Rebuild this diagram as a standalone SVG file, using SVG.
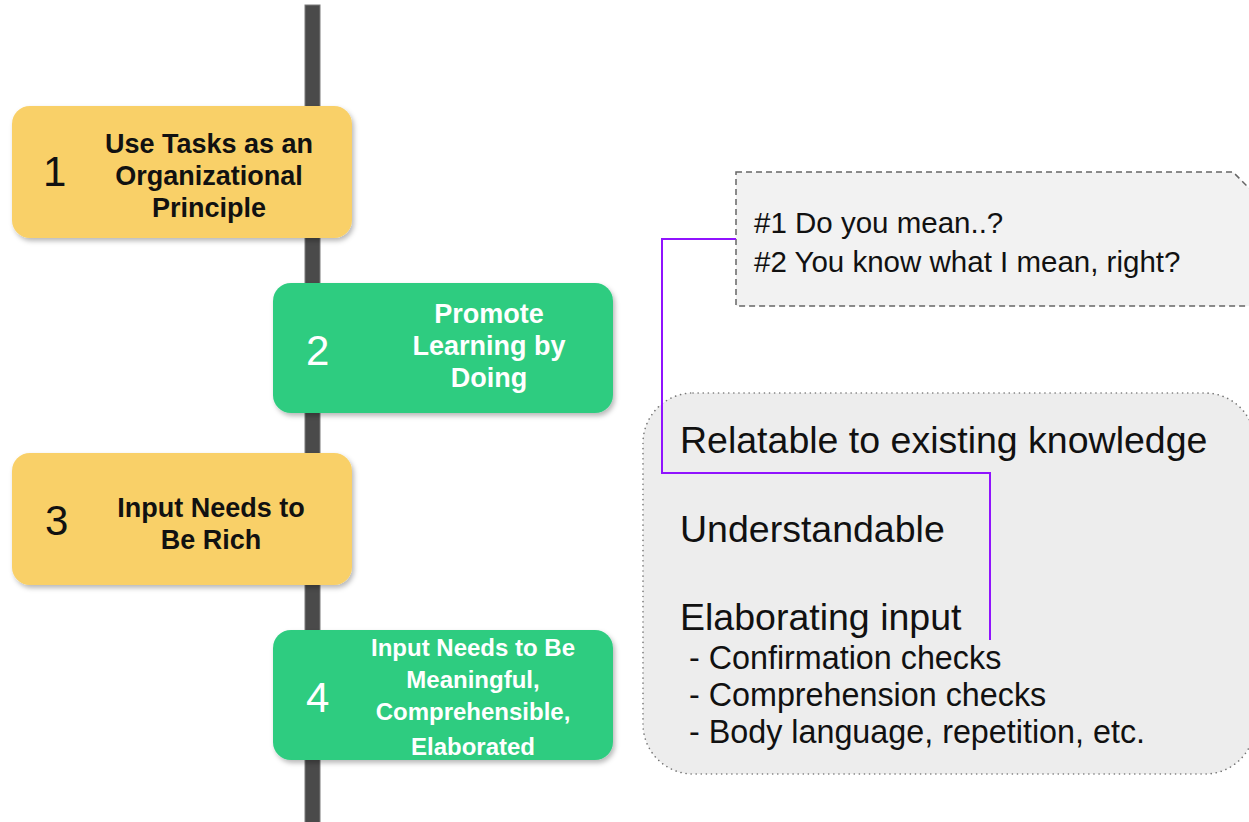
<svg xmlns="http://www.w3.org/2000/svg" width="1249" height="822" viewBox="0 0 1249 822">
<defs>
<filter id="sh" x="-10%" y="-10%" width="125%" height="130%">
<feDropShadow dx="2" dy="3" stdDeviation="2.5" flood-color="#000" flood-opacity="0.28"/>
</filter>
<style>
.box{filter:url(#sh);}
.yel{fill:#F9D067;}
.grn{fill:#2FCC80;}
.num{font-family:"Liberation Sans",Arial,sans-serif;font-size:42px;}
.ttl{font-family:"Liberation Sans",Arial,sans-serif;font-weight:bold;font-size:27px;text-anchor:middle;}
.dk{fill:#111;}
.lt{fill:#fff;}
.note{font-family:"Liberation Sans",Arial,sans-serif;font-size:29.5px;fill:#111;}
.big{font-family:"Liberation Sans",Arial,sans-serif;font-size:37.5px;fill:#111;}
.sm{font-family:"Liberation Sans",Arial,sans-serif;font-size:32.3px;fill:#111;}
</style>
</defs>
<rect width="1249" height="822" fill="#fff"/>
<rect id="timeline" x="305" y="5" width="15" height="830" fill="#4a4a4a" stroke="#7a7a7a" stroke-width="1"/>

<g id="node1">
<rect class="box yel" x="12" y="106" width="340" height="132" rx="18"/>
<text class="num dk" x="43" y="186">1</text>
<text class="ttl dk"><tspan x="209" y="153">Use Tasks as an</tspan><tspan x="209" y="185">Organizational</tspan><tspan x="209" y="217">Principle</tspan></text>
</g>

<g id="node2">
<rect class="box grn" x="273" y="283" width="340" height="130" rx="18"/>
<text class="num lt" x="306" y="365">2</text>
<text class="ttl lt"><tspan x="489" y="323">Promote</tspan><tspan x="489" y="355">Learning by</tspan><tspan x="489" y="387">Doing</tspan></text>
</g>

<g id="node3">
<rect class="box yel" x="12" y="453" width="340" height="132" rx="18"/>
<text class="num dk" x="45" y="535">3</text>
<text class="ttl dk"><tspan x="211" y="517">Input Needs to</tspan><tspan x="211" y="549">Be Rich</tspan></text>
</g>

<g id="node4">
<rect class="box grn" x="273" y="630" width="340" height="130" rx="18"/>
<text class="num lt" x="306" y="712">4</text>
<text class="ttl lt" style="font-size:24px"><tspan x="473" y="656">Input Needs to Be</tspan><tspan x="473" y="688">Meaningful,</tspan><tspan x="473" y="720">Comprehensible,</tspan><tspan x="473" y="755">Elaborated</tspan></text>
</g>

<g id="note">
<path d="M736,172 H1233 L1255,194 V306 H736 Z" fill="#f2f2f2" stroke="#666" stroke-width="1.5" stroke-dasharray="6 4"/>
<text class="note"><tspan x="754" y="233">#1 Do you mean..?</tspan><tspan x="754" y="272">#2 You know what I mean, right?</tspan></text>
</g>

<g id="criteria">
<rect x="643" y="393" width="612" height="381" rx="50" fill="#ededed" stroke="#777" stroke-width="1.6" stroke-dasharray="0.1 5" stroke-linecap="round"/>
<text class="big" x="680" y="453">Relatable to existing knowledge</text>
<text class="big" x="680" y="542">Understandable</text>
<text class="big" x="680" y="630">Elaborating input</text>
<text class="sm" xml:space="preserve"><tspan x="680" y="669"> - Confirmation checks</tspan><tspan x="680" y="706"> - Comprehension checks</tspan><tspan x="680" y="743"> - Body language, repetition, etc.</tspan></text>
</g>

<g id="connectors">
<polyline points="736,239 662,239 662,473 990,473 990,640" fill="none" stroke="#9013FE" stroke-width="2"/>
</g>
</svg>
